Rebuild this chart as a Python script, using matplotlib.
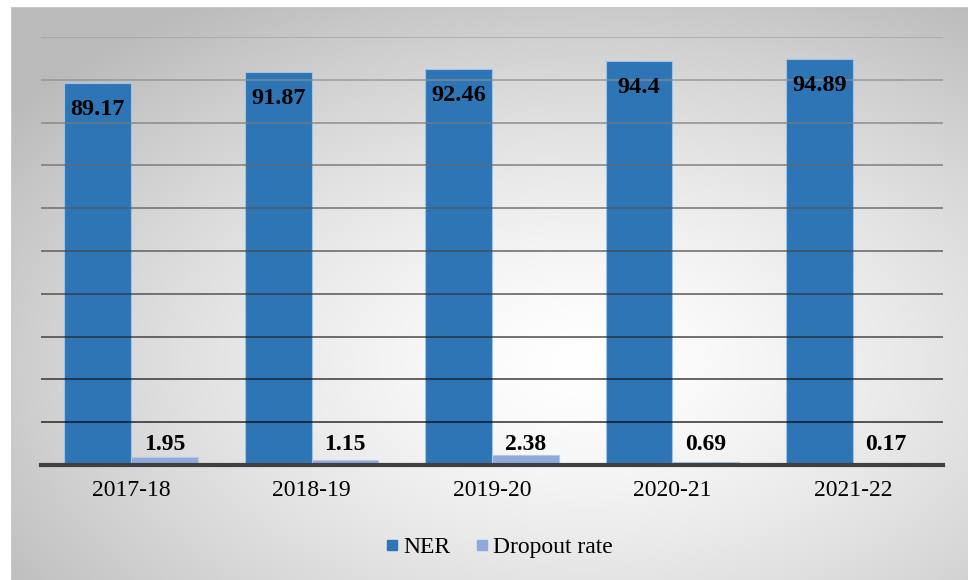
import numpy as np
import matplotlib
matplotlib.use("Agg")
import matplotlib.pyplot as plt
from matplotlib.lines import Line2D

years = ["2017-18", "2018-19", "2019-20", "2020-21", "2021-22"]
ner = [89.17, 91.87, 92.46, 94.4, 94.89]
dropout = [1.95, 1.15, 2.38, 0.69, 0.17]
ner_labels = ["89.17", "91.87", "92.46", "94.4", "94.89"]
dropout_labels = ["1.95", "1.15", "2.38", "0.69", "0.17"]

W, H = 968, 580
fig = plt.figure(figsize=(W / 100, H / 100), dpi=100)
fig.patch.set_facecolor("white")

# radial gradient background
bg = fig.add_axes([11 / W, 0, 1 - 11 / W, 1 - 7 / H])
bg.set_axis_off()
ny, nx = 300, 500
yy, xx = np.mgrid[0:ny, 0:nx]
cx, cy = 0.6 * nx, 0.62 * ny
d = np.sqrt(((xx - cx) / (0.75 * nx)) ** 2 + ((yy - cy) / (0.75 * ny)) ** 2)
d = np.clip(d, 0, 1)
val = 1.0 - 0.27 * d ** 1.4
img = np.dstack([val, val, val])
bg.imshow(img, aspect="auto", extent=[0, 1, 0, 1], origin="upper")
bg.set_xlim(0, 1)
bg.set_ylim(0, 1)
bg.plot([0, 0, 1], [0, 1, 1], color="#c8c8c8", lw=1.5)

ax = fig.add_axes([41 / W, (H - 465) / H, (943 - 41) / W, (465 - 37) / H])
ax.patch.set_alpha(0)
x = np.arange(len(years))
bw = 0.37
ax.bar(x - bw / 2, ner, bw, color="#2E75B6", edgecolor="#9DC3E6", linewidth=0.8, zorder=2)
ax.bar(x + bw / 2, dropout, bw, color="#8EA9DB", edgecolor="#B4C7E7", linewidth=0.8, zorder=2)

ax.set_xlim(-0.5, len(years) - 0.5)
ax.set_ylim(0, 100)
for v in range(10, 101, 10):
    g = 0.0 + 0.62 * (v - 10) / 90
    ax.axhline(v, color=(g, g, g), lw=1.2, alpha=0.75, zorder=3)

for s in ["top", "right", "left"]:
    ax.spines[s].set_visible(False)
ax.spines["bottom"].set_color("#404040")
ax.spines["bottom"].set_linewidth(3)
ax.spines["bottom"].set_zorder(4)
ax.set_yticks([])
ax.set_xticks(x)
ax.set_xticklabels(years, fontfamily="Liberation Serif", fontsize=17)
ax.tick_params(axis="x", length=0, pad=11)

for xi, v, lab in zip(x, ner, ner_labels):
    ax.annotate(lab, (xi - bw / 2, v), xytext=(0, -19), textcoords="offset points",
                ha="center", va="center", fontfamily="Liberation Serif",
                fontweight="bold", fontsize=17.5, zorder=5)
for xi, v, lab in zip(x, dropout, dropout_labels):
    ax.text(xi + bw / 2, 4.7, lab, ha="center", va="center",
            fontfamily="Liberation Serif", fontweight="bold", fontsize=17, zorder=5)

handles = [Line2D([], [], marker="s", ls="", color="#2E75B6", markersize=7),
           Line2D([], [], marker="s", ls="", color="#8EA9DB", markersize=7)]
fig.legend(handles, ["NER", "Dropout rate"], loc="center",
           bbox_to_anchor=(497 / W, 1 - 547 / H), ncol=2, frameon=False,
           prop={"family": "Liberation Serif", "size": 17},
           handletextpad=0.0, columnspacing=0.9, handlelength=0.9)

fig.savefig("out.png", dpi=100)
